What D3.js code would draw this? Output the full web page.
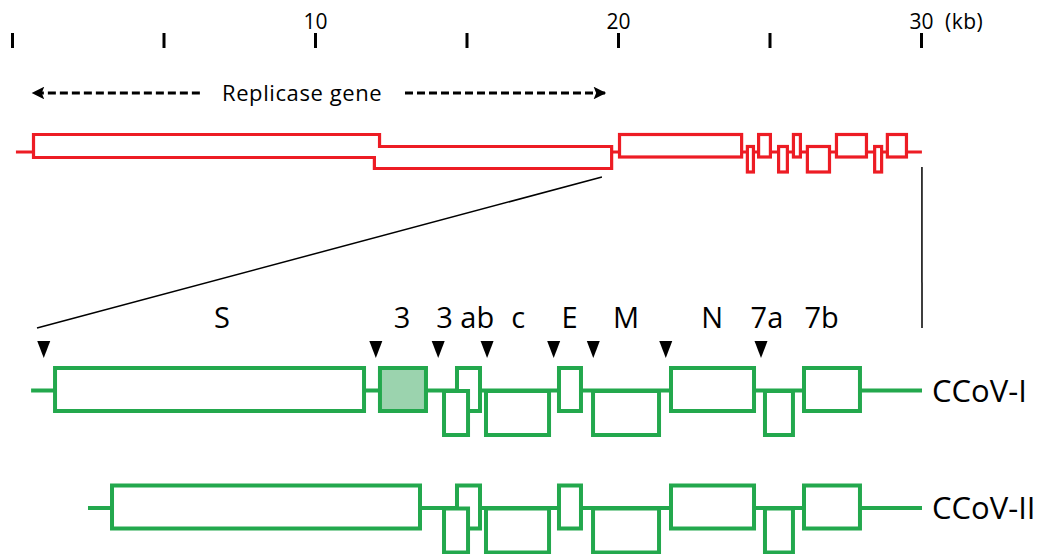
<!DOCTYPE html>
<html>
<head>
<meta charset="utf-8">
<script src="https://cdn.jsdelivr.net/npm/d3@7"></script>
<style>
  html, body { margin: 0; padding: 0; background: #fff; }
  svg { display: block; font-family: "Open Sans", "Liberation Sans", sans-serif; }
</style>
</head>
<body>
<svg id="chart" width="1040" height="554"></svg>
<script>
// ---------------- data (kb) ----------------
const axisTicks = [0, 5, 10, 15, 20, 25, 30];
const axisLabels = ["", "", "10", "", "20", "", "30"];
const axisUnit = "(kb)";

const genomeSpan = [0.13, 30.03];
const orf1a = [0.71, 12.13];
const orf1b = [11.96, 19.79];
const replicaseLabel = "Replicase gene";
const replicaseArrowLeft = [6.2, 0.69];
const replicaseArrowRight = [12.97, 19.57];
const replicaseLabelStart = 6.93;

// overview 3' ORFs: frame 0 = upper, 1 = lower
const overviewStarts = [20.05, 24.27, 24.64, 25.30, 25.79, 26.25, 27.21, 28.47, 28.89];
const overviewEnds   = [24.08, 24.47, 25.03, 25.59, 26.02, 26.98, 28.20, 28.70, 29.52];
const overviewFrames = [0, 1, 0, 1, 0, 1, 0, 1, 0];

// zoomed region
const zoomSpan = [19.47, 30.03];
const detailDomain = [19.5, 30];

const strainNames = ["CCoV-I", "CCoV-II"];
const strainSpans = [[19.43, 30.0], [20.105, 30.0]];
const ccov1Genes  = ["S", "3", "3a", "3b", "3c", "E", "M", "N", "7a", "7b"];
const ccov1Starts = [19.714, 23.569, 24.329, 24.483, 24.827, 25.693, 26.097, 27.022, 28.137, 28.600];
const ccov1Ends   = [23.380, 24.115, 24.614, 24.756, 25.575, 25.954, 26.880, 28.007, 28.469, 29.264];
const ccov1Frames = [0, 0, 1, 0, 1, 0, 1, 0, 1, 0];
const ccov1Filled = [false, true, false, false, false, false, false, false, false, false];
const ccov2Genes  = ["S", "3a", "3b", "3c", "E", "M", "N", "7a", "7b"];
const ccov2Starts = [20.39, 24.329, 24.483, 24.827, 25.693, 26.097, 27.022, 28.137, 28.600];
const ccov2Ends   = [24.044, 24.614, 24.756, 25.575, 25.954, 26.880, 28.007, 28.469, 29.264];
const ccov2Frames = [0, 1, 0, 1, 0, 1, 0, 1, 0];
const ccov2Filled = [false, false, false, false, false, false, false, false, false];

const trsPositions = [19.58, 23.52, 24.26, 24.84, 25.63, 26.10, 26.96, 28.09];
const geneLabels = ["S", "3", "3 ab", "c", "E", "M", "N", "7a", "7b"];
const geneLabelPos = [21.695, 23.83, 24.58, 25.21, 25.82, 26.49, 27.51, 28.16, 28.81];

// ---------------- drawing ----------------
const RED = "#ed1c24", GREEN = "#23a84d", FILL3 = "#9bd3ae";
const svg = d3.select("#chart");

const x = d3.scaleLinear().domain([0, 30]).range([12, 921]);
const xd = d3.scaleLinear().domain(detailDomain).range([37, 922]);

// axis
const axisG = svg.append("g").attr("transform", "translate(0,48)")
  .call(d3.axisTop(x).tickValues(axisTicks).tickSize(15).tickPadding(4)
    .tickFormat((d, i) => axisLabels[i]));
axisG.select(".domain").remove();
axisG.selectAll(".tick line").attr("stroke", "#000").attr("stroke-width", 3);
axisG.selectAll(".tick text").attr("fill", "#000").style("font-size", "21px")
  .style("font-family", "'Open Sans', sans-serif");
svg.append("text").attr("x", x(30) + 24).attr("y", 29)
  .style("font-size", "21px").style("letter-spacing", "0.5px").text(axisUnit);

// replicase arrows
svg.append("defs").append("marker").attr("id", "ah")
  .attr("viewBox", "0 0 10 10").attr("refX", 9).attr("refY", 5)
  .attr("markerWidth", 6).attr("markerHeight", 4.2).attr("markerUnits", "strokeWidth")
  .attr("orient", "auto")
  .append("path").attr("d", "M0,0 L10,5 L0,10 L2,5 Z").attr("fill", "#000");
const arrowY = 93;
[replicaseArrowLeft, replicaseArrowRight].forEach(a => {
  svg.append("line").attr("x1", x(a[0])).attr("x2", x(a[1]))
    .attr("y1", arrowY).attr("y2", arrowY)
    .attr("stroke", "#000").attr("stroke-width", 3)
    .attr("stroke-dasharray", "8,4").attr("marker-end", "url(#ah)");
});
svg.append("text").attr("x", x(replicaseLabelStart)).attr("y", arrowY + 8)
  .style("font-size", "22px").style("letter-spacing", "0.6px").text(replicaseLabel);

// overview genome
const gY = 152;
const upTop = gY - 17.5, upH = 22.5;
const loTop = gY - 5.5, loH = 25.5;
const og = svg.append("g").attr("fill", "none").attr("stroke", RED).attr("stroke-width", 3.2);
og.append("line").attr("x1", x(genomeSpan[0])).attr("x2", x(genomeSpan[1]))
  .attr("y1", gY).attr("y2", gY);
const t1a = gY - 17.5, b1a = gY + 5.5, t1b = gY - 5.5, b1b = gY + 16.5;
const p = d3.path();
p.moveTo(x(orf1a[0]), t1a); p.lineTo(x(orf1a[1]), t1a); p.lineTo(x(orf1a[1]), t1b);
p.lineTo(x(orf1b[1]), t1b); p.lineTo(x(orf1b[1]), b1b); p.lineTo(x(orf1b[0]), b1b);
p.lineTo(x(orf1b[0]), b1a); p.lineTo(x(orf1a[0]), b1a); p.closePath();
og.append("path").attr("d", p.toString()).attr("fill", "#fff");
const ovData = overviewStarts.map((s, i) => ({s, e: overviewEnds[i], f: overviewFrames[i]}))
  .sort((a, b) => a.f - b.f);
og.selectAll("rect.o").data(ovData)
  .join("rect").attr("class", "o")
  .attr("x", d => x(d.s)).attr("width", d => x(d.e) - x(d.s))
  .attr("y", d => d.f ? loTop : upTop).attr("height", d => d.f ? loH : upH)
  .attr("fill", "#fff");

// zoom lines
svg.append("line").attr("x1", x(zoomSpan[0])).attr("y1", 177)
  .attr("x2", xd(detailDomain[0])).attr("y2", 328)
  .attr("stroke", "#000").attr("stroke-width", 1.5);
svg.append("line").attr("x1", x(zoomSpan[1])).attr("y1", 167)
  .attr("x2", xd(detailDomain[1])).attr("y2", 328)
  .attr("stroke", "#000").attr("stroke-width", 1.5);

// labels
svg.selectAll("text.gl").data(geneLabels).join("text").attr("class", "gl")
  .attr("x", (d, i) => xd(geneLabelPos[i])).attr("y", 328)
  .attr("text-anchor", "middle").style("font-size", "29px").text(d => d);

// TRS triangles
svg.selectAll("path.trs").data(trsPositions).join("path").attr("class", "trs")
  .attr("d", d => `M${xd(d) - 6.5},341 L${xd(d) + 6.5},341 L${xd(d)},358 Z`)
  .attr("fill", "#000");

// strains
const strainY = [390.5, 508];
const strains = [
  {starts: ccov1Starts, ends: ccov1Ends, frames: ccov1Frames, filled: ccov1Filled},
  {starts: ccov2Starts, ends: ccov2Ends, frames: ccov2Frames, filled: ccov2Filled}
];
strains.forEach((st, k) => {
  const y0 = strainY[k];
  const g = svg.append("g").attr("stroke", GREEN).attr("stroke-width", 4);
  g.append("line").attr("x1", xd(strainSpans[k][0])).attr("x2", xd(strainSpans[k][1]))
    .attr("y1", y0).attr("y2", y0);
  const genes = st.starts.map((s, i) => ({s, e: st.ends[i], f: st.frames[i], fill: st.filled[i]}))
    .sort((a, b) => a.f - b.f);
  g.selectAll("rect").data(genes).join("rect")
    .attr("x", d => xd(d.s)).attr("width", d => xd(d.e) - xd(d.s))
    .attr("y", d => d.f ? y0 + 0.5 : y0 - 22.5).attr("height", d => d.f ? 44 : 43)
    .attr("fill", d => d.fill ? FILL3 : "#fff");
  svg.append("text").attr("x", xd(strainSpans[k][1]) + 10).attr("y", y0 + 11)
    .style("font-size", "31px").text(strainNames[k]);
});
</script>
</body>
</html>
